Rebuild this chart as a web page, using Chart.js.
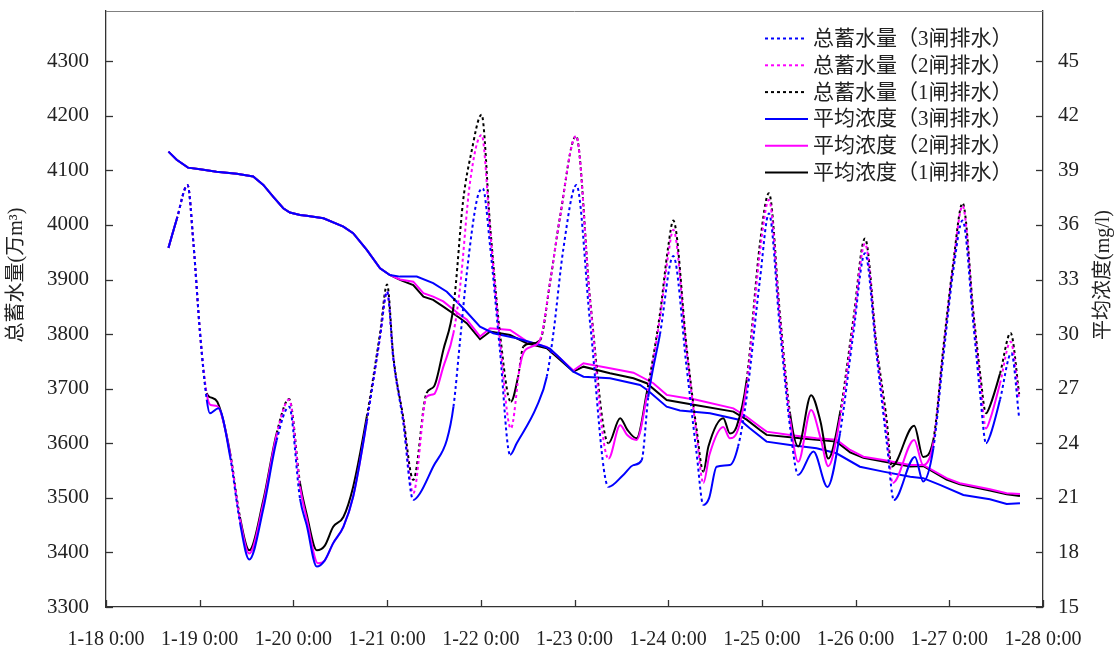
<!DOCTYPE html>
<html>
<head>
<meta charset="utf-8">
<script src="https://cdn.jsdelivr.net/npm/chart.js@4"></script>
<style>
html,body{margin:0;padding:0;background:#fff;}
#wrap{width:1114px;height:648px;position:relative;}
</style>
</head>
<body>
<div id="wrap"><canvas id="c"></canvas></div>
<script>
// x values are hours counted from 1-18 0:00
const dayLabels = ['1-18 0:00','1-19 0:00','1-20 0:00','1-21 0:00','1-22 0:00','1-23 0:00','1-24 0:00','1-25 0:00','1-26 0:00','1-27 0:00','1-28 0:00'];
const dayTicks = [0,24,48,72,96,120,144,168,192,216,240];
const leftTicks = [3300,3400,3500,3600,3700,3800,3900,4000,4100,4200,4300];
const rightTicks = [15,18,21,24,27,30,33,36,39,42,45];
const seriesLabels = ['总蓄水量（3闸排水）','总蓄水量（2闸排水）','总蓄水量（1闸排水）','平均浓度（3闸排水）','平均浓度（2闸排水）','平均浓度（1闸排水）'];
const leftTitle = '总蓄水量(万m³)';
const rightTitle = '平均浓度(mg/l)';

// 总蓄水量 (万m3) — [hour, value]
const storage3 = [[16,3958],[18.1,4010],[20.9,4073],[22.4,3966],[24.1,3801],[25.8,3680],[26.6,3655],[28.8,3664],[31.8,3575],[34.3,3455],[36.7,3387],[40.3,3480],[43.7,3605],[46.9,3667],[49.7,3498],[51.4,3450],[54.0,3374],[56,3385],[58.2,3417],[60.8,3447],[63.3,3502],[66.8,3640],[70.2,3795],[72.0,3878],[73.6,3755],[76.1,3640],[78.7,3496],[80.4,3508],[83.8,3557],[87.3,3606],[89.0,3667],[90.7,3789],[92.4,3911],[95.0,4046],[96.5,4067],[98.4,3960],[100.9,3770],[103.5,3579],[105.2,3600],[110.3,3667],[112.9,3722],[114.6,3802],[117.1,3954],[120.5,4073],[124.0,3820],[128.7,3520],[132.5,3542],[135.1,3560],[137.2,3569],[138.9,3685],[141.9,3800],[145.3,3943],[148.7,3740],[151.3,3580],[153.0,3487],[154.5,3500],[156.4,3557],[159.8,3560],[161.9,3594],[164.1,3685],[167.5,3900],[169.8,4021],[172.6,3810],[175.2,3630],[177.3,3542],[181.2,3585],[184.8,3520],[188.0,3618],[191.4,3800],[194.4,3948],[197.4,3760],[200.0,3600],[201.8,3496],[207.2,3575],[209.3,3530],[211.9,3590],[214.5,3760],[217.0,3915],[219.4,4008],[222.2,3815],[223.9,3690],[225.4,3600],[226.5,3615],[229.0,3680],[231.9,3765],[233.9,3646]];
const storage2 = [[16,3958],[18.1,4010],[20.9,4073],[22.4,3966],[24.1,3801],[25.8,3690],[26.8,3670],[28.5,3668],[31.8,3580],[34.3,3462],[36.7,3398],[40.3,3490],[43.7,3615],[46.9,3680],[49.7,3520],[51.4,3462],[54.3,3380],[56,3385],[58.2,3417],[60.8,3447],[63.3,3502],[66.8,3640],[70.2,3795],[72.0,3878],[73.6,3755],[76.1,3645],[78.7,3508],[82.1,3685],[84,3690],[86.4,3740],[89.0,3802],[90.7,3887],[93.2,4076],[96.2,4165],[98.4,3990],[100.9,3790],[103.7,3627],[106,3740],[106.9,3765],[109,3777],[111.2,3790],[113.7,3893],[116.3,4015],[120.4,4163],[124.0,3860],[128.7,3572],[131.7,3633],[133.5,3615],[135.9,3606],[138.5,3685],[141.9,3830],[144.0,3945],[145.3,3991],[148.7,3770],[151.3,3615],[153.0,3527],[154.6,3580],[158.1,3630],[159.8,3609],[161.5,3618],[164.1,3705],[167.5,3950],[169.8,4046],[172.6,3830],[175.2,3645],[177.3,3566],[180.6,3661],[183,3610],[185.0,3558],[188.0,3645],[191.4,3815],[194.4,3966],[197.4,3770],[200.0,3620],[201.5,3527],[207.0,3606],[209.3,3560],[211.9,3600],[214.5,3770],[217.0,3925],[219.4,4035],[222.2,3830],[223.9,3715],[225.4,3627],[226.5,3645],[229.0,3710],[231.7,3786],[233.9,3680]];
const storage1 = [[16,3958],[18.1,4010],[20.9,4073],[22.4,3966],[24.1,3801],[25.8,3692],[26.8,3684],[28.5,3676],[31.8,3582],[34.3,3465],[36.7,3404],[40.3,3496],[43.7,3618],[46.9,3681],[49.7,3527],[51.4,3470],[54.0,3404],[56,3412],[58.2,3447],[60.8,3465],[63.3,3520],[66.8,3649],[70.2,3802],[72.0,3891],[73.6,3759],[76.1,3649],[78.7,3533],[82.1,3692],[84,3704],[86.4,3771],[89.0,3850],[91.5,4046],[93.5,4130],[96.2,4202],[98.4,3997],[100.9,3802],[103.7,3676],[105.5,3720],[106.9,3777],[109,3783],[111.2,3789],[113.7,3893],[116.3,4015],[120.4,4163],[124.0,3863],[128.7,3600],[131.7,3646],[133.5,3625],[135.9,3609],[138.5,3692],[141.9,3838],[144.0,3960],[145.3,4008],[148.7,3777],[151.3,3624],[153.0,3548],[154.3,3594],[158.1,3646],[159.8,3618],[161.5,3630],[164.1,3716],[167.5,3966],[169.8,4058],[172.6,3838],[175.2,3655],[177.3,3594],[180.6,3688],[183,3640],[185.0,3572],[188.0,3655],[191.4,3826],[194.4,3975],[197.4,3777],[200.0,3640],[201.2,3557],[207.0,3632],[209.3,3575],[211.9,3606],[214.5,3777],[217.0,3930],[219.4,4040],[222.2,3838],[223.9,3728],[225.4,3655],[226.5,3670],[229.0,3728],[231.7,3802],[233.9,3690]];

// 平均浓度 (mg/l) — [hour, value]
const conc3 = [[16,40.03],[18.1,39.58],[21,39.15],[24.1,39.06],[28.3,38.93],[33.5,38.81],[37.7,38.66],[40.3,38.2],[42.8,37.56],[45.4,36.92],[47.1,36.68],[49.7,36.55],[51.4,36.5],[55.7,36.37],[60.8,35.91],[63.3,35.55],[66.8,34.63],[70.2,33.62],[72.7,33.25],[75.3,33.16],[79.6,33.16],[83.8,32.8],[87.3,32.33],[88.1,32.15],[90.7,31.6],[91.5,31.42],[95.8,30.41],[99.2,30.05],[105.2,29.77],[111.2,29.4],[113.7,29.2],[116.3,28.67],[119.7,27.94],[122.3,27.66],[129.1,27.57],[136.8,27.2],[138.8,26.9],[143.6,26.01],[147,25.8],[154.7,25.65],[162.4,25.28],[164.9,24.82],[169.2,24.09],[175.2,23.91],[182,23.72],[187.1,23.45],[193.1,22.71],[199.1,22.44],[206,22.16],[209.3,22.08],[213.6,21.71],[219.6,21.16],[226.4,20.92],[230.7,20.66],[234.1,20.7]];
const conc2 = [[16,40.03],[18.1,39.58],[21,39.15],[24.1,39.06],[28.3,38.93],[33.5,38.81],[37.7,38.66],[40.3,38.2],[42.8,37.56],[45.4,36.92],[47.1,36.68],[49.7,36.55],[51.4,36.5],[55.7,36.37],[60.8,35.91],[63.3,35.55],[66.8,34.63],[70.2,33.62],[72.7,33.25],[75.3,33.0],[78.7,32.88],[81.3,32.25],[83.8,32.06],[86.4,31.8],[90.7,31.05],[92.4,30.8],[95.8,29.87],[98.4,30.32],[103.5,30.23],[107.8,29.6],[112.9,29.3],[115.4,28.85],[119.7,28.0],[122.3,28.4],[129.1,28.12],[135.1,27.88],[140.2,27.3],[143.6,26.66],[148.7,26.47],[150.9,26.4],[160.7,25.92],[164.1,25.46],[167.5,24.91],[169.2,24.64],[175.2,24.46],[182,24.28],[187.1,24.2],[190.6,23.63],[194,23.26],[199.1,23.08],[206,22.81],[209.3,22.81],[215.3,22.08],[218.7,21.8],[226.4,21.47],[230.7,21.25],[234.1,21.21]];
const conc1 = [[16,40.03],[18.1,39.58],[21,39.15],[24.1,39.06],[28.3,38.93],[33.5,38.81],[37.7,38.66],[40.3,38.2],[42.8,37.56],[45.4,36.92],[47.1,36.68],[49.7,36.55],[51.4,36.5],[55.7,36.37],[60.8,35.91],[63.3,35.55],[66.8,34.63],[70.2,33.62],[72.7,33.25],[75.3,32.98],[78.7,32.7],[81.3,32.06],[83.8,31.88],[86.4,31.51],[90.7,30.87],[92.4,30.6],[95.8,29.72],[98.4,30.14],[103.5,29.95],[107.8,29.5],[112.9,29.22],[115.4,28.76],[119.7,27.94],[122.3,28.21],[129.1,27.85],[135.1,27.57],[138.5,27.3],[143.6,26.38],[150.9,26.1],[160.7,25.74],[164.1,25.3],[167.5,24.73],[169.2,24.46],[177.8,24.28],[187.1,24.09],[190.6,23.5],[194,23.2],[199.1,23.0],[206,22.72],[209.3,22.75],[215.3,22.0],[218.7,21.75],[226.4,21.4],[230.7,21.2],[234.1,21.1]];

const colors = ['#0000ff','#ff00ff','#000000'];
const toXY = arr => arr.map(p => ({x:p[0], y:p[1]}));
const FONT = '"Liberation Serif", "Noto Sans CJK SC", serif';
const TEXT = '#222222';
const STEEP = 40; // 万m3 per hour: steeper segments drawn dotted

function slopeAt(data, i){
  if (i < 0 || i >= data.length - 1) return 0;
  return Math.abs(data[i+1].y - data[i].y) / Math.max(0.01, Math.abs(data[i+1].x - data[i].x));
}
function isPeak(data, i){
  return i > 0 && i < data.length - 1 && data[i].y > data[i-1].y && data[i].y > data[i+1].y;
}
function storageSet(label, arr, color){
  const data = toXY(arr);
  return {label, data, yAxisID:'y', borderColor:color, backgroundColor:color,
    borderWidth:2, pointRadius:0, cubicInterpolationMode:'monotone', fill:false, _dotted:true,
    segment:{borderDash: ctx => {
      const i = ctx.p0DataIndex;
      let dotted = slopeAt(data, i) > STEEP;
      if (!dotted && isPeak(data, i+1) && slopeAt(data, i+1) > STEEP) dotted = true;
      if (!dotted && isPeak(data, i) && slopeAt(data, i-1) > STEEP) dotted = true;
      return dotted ? [3,3] : [];
    }}};
}
function concSet(label, arr, color){
  return {label, data: toXY(arr), yAxisID:'y1', borderColor:color, backgroundColor:color,
    borderWidth:2, pointRadius:0, tension:0, fill:false, _dotted:false};
}
function noPad(s){ s.paddingTop = 0; s.paddingBottom = 0; s.paddingLeft = 0; s.paddingRight = 0; }

const overlay = {
  id:'overlay',
  afterDraw(chart){
    const {ctx, chartArea:a, scales} = chart;
    const line = (x1,y1,x2,y2) => {ctx.beginPath(); ctx.moveTo(x1,y1); ctx.lineTo(x2,y2); ctx.stroke();};
    ctx.save();
    ctx.strokeStyle = '#808080'; ctx.lineWidth = 1;
    line(a.left, a.top + 0.5, a.right, a.top + 0.5);
    ctx.strokeStyle = '#333'; ctx.lineWidth = 1.3;
    scales.y.ticks.forEach(t => { const y = Math.round(scales.y.getPixelForValue(t.value)) + 0.5; line(a.left, y, a.left + 7, y); });
    scales.y1.ticks.forEach(t => { const y = Math.round(scales.y1.getPixelForValue(t.value)) + 0.5; line(a.right - 7, y, a.right, y); });
    scales.x.ticks.forEach(t => { const x = Math.round(scales.x.getPixelForValue(t.value)) + 0.5; line(x, a.bottom, x, a.bottom - 7); });
    // axis titles
    ctx.fillStyle = TEXT; ctx.font = '20px ' + FONT; ctx.textAlign = 'center'; ctx.textBaseline = 'middle';
    ctx.save(); ctx.translate(17, 275); ctx.rotate(-Math.PI/2); ctx.fillText(leftTitle, 0, 0); ctx.restore();
    ctx.save(); ctx.translate(1104, 275); ctx.rotate(-Math.PI/2); ctx.fillText(rightTitle, 0, 0); ctx.restore();
    // legend
    ctx.textAlign = 'left';
    ctx.font = '21px ' + FONT;
    chart.data.datasets.forEach((ds, i) => {
      const y = 38.5 + i * 26.8;
      ctx.strokeStyle = ds.borderColor; ctx.lineWidth = 2;
      ctx.setLineDash(ds._dotted ? [3,3] : []);
      line(765, y, ds._dotted ? 804 : 808, y);
      ctx.setLineDash([]);
      ctx.fillStyle = TEXT;
      ctx.fillText(ds.label, 813, y + 1);
    });
    ctx.restore();
  }
};

new Chart(document.getElementById('c'), {
  type:'line',
  data:{datasets:[
    storageSet(seriesLabels[0], storage3, colors[0]),
    storageSet(seriesLabels[1], storage2, colors[1]),
    storageSet(seriesLabels[2], storage1, colors[2]),
    concSet(seriesLabels[3], conc3, colors[0]),
    concSet(seriesLabels[4], conc2, colors[1]),
    concSet(seriesLabels[5], conc1, colors[2])
  ]},
  options:{
    responsive:true, maintainAspectRatio:false, animation:false,
    layout:{padding:{top:11,left:0,right:0,bottom:0}},
    plugins:{legend:{display:false}, tooltip:{enabled:false}},
    scales:{
      x:{type:'linear', min:0, max:240,
        grid:{display:false, drawTicks:false},
        border:{display:true, color:'#333', width:1.3},
        ticks:{autoSkip:false, maxRotation:0, padding:21, color:TEXT,
          font:{family:FONT, size:20},
          callback:(v) => dayLabels[dayTicks.indexOf(Math.round(v))] || ''},
        afterBuildTicks:s => { s.ticks = dayTicks.map(v => ({value:v})); },
        afterFit:s => { s.height = 41; noPad(s); }
      },
      y:{type:'linear', position:'left', min:3300, max:4392,
        grid:{display:false, drawTicks:false},
        border:{display:true, color:'#333', width:1.3},
        ticks:{autoSkip:false, padding:17, color:TEXT, font:{family:FONT, size:21},
          callback:(v) => String(Math.round(v))},
        afterBuildTicks:s => { s.ticks = leftTicks.map(v => ({value:v})); },
        afterFit:s => { s.width = 106; noPad(s); }
      },
      y1:{type:'linear', position:'right', min:15, max:47.76,
        grid:{display:false, drawTicks:false},
        border:{display:true, color:'#333', width:1.3},
        ticks:{autoSkip:false, padding:15, color:TEXT, font:{family:FONT, size:21},
          callback:(v) => String(Math.round(v))},
        afterBuildTicks:s => { s.ticks = rightTicks.map(v => ({value:v})); },
        afterFit:s => { s.width = 71; noPad(s); }
      }
    }
  },
  plugins:[overlay]
});
</script>
</body>
</html>
